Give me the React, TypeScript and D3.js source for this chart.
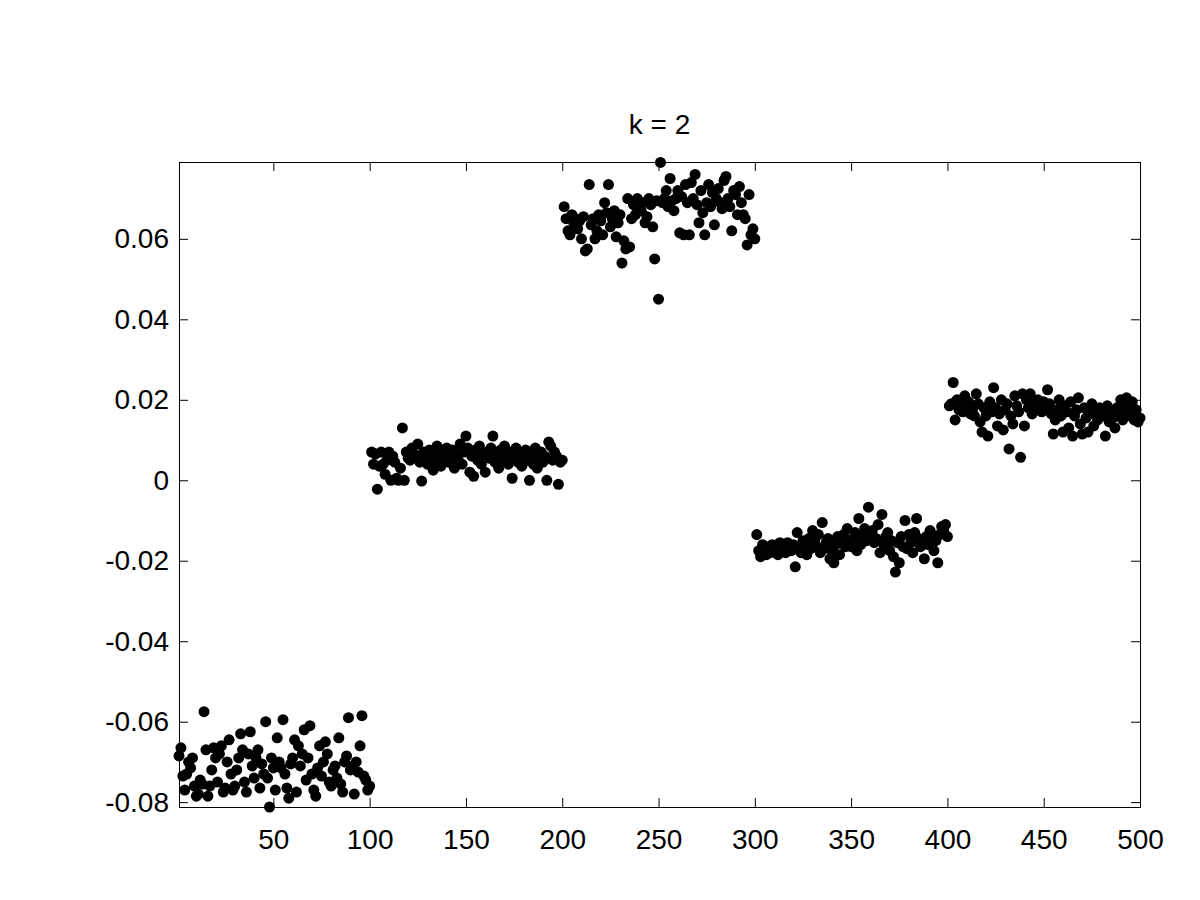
import React, { useEffect, useRef } from 'react';
import * as d3 from 'd3';

// five groups of 100 points each, x = 1..500
const group1 = [
  -0.0685, -0.0665, -0.0735, -0.0770, -0.0730, -0.0700, -0.0715, -0.0690, -0.0760, -0.0785,
  -0.0780, -0.0745, -0.0755, -0.0575, -0.0670, -0.0785, -0.0760, -0.0720, -0.0665, -0.0690,
  -0.0750, -0.0680, -0.0660, -0.0775, -0.0765, -0.0700, -0.0645, -0.0730, -0.0770, -0.0760,
  -0.0720, -0.0690, -0.0630, -0.0670, -0.0750, -0.0775, -0.0680, -0.0625, -0.0710, -0.0740,
  -0.0690, -0.0670, -0.0765, -0.0705, -0.0730, -0.0600, -0.0740, -0.0812, -0.0690, -0.0715,
  -0.0770, -0.0640, -0.0700, -0.0715, -0.0595, -0.0730, -0.0765, -0.0790, -0.0705, -0.0690,
  -0.0645, -0.0775, -0.0660, -0.0710, -0.0680, -0.0620, -0.0745, -0.0690, -0.0610, -0.0730,
  -0.0770, -0.0785, -0.0715, -0.0660, -0.0735, -0.0700, -0.0650, -0.0680, -0.0750, -0.0760,
  -0.0720, -0.0710, -0.0740, -0.0640, -0.0755, -0.0775, -0.0700, -0.0685, -0.0590, -0.0720,
  -0.0710, -0.0780, -0.0700, -0.0725, -0.0660, -0.0585, -0.0735, -0.0745, -0.0770, -0.0760,
];
const group2 = [
  0.0070, 0.0040, 0.0065, -0.0022, 0.0035, 0.0070, 0.0040, 0.0015, 0.0050, 0.0070,
  0.0000, 0.0060, 0.0045, 0.0005, 0.0000, 0.0030, 0.0130, 0.0000, 0.0070, 0.0055,
  0.0050, 0.0080, 0.0065, 0.0060, 0.0090, 0.0045, -0.0002, 0.0070, 0.0055, 0.0040,
  0.0075, 0.0060, 0.0025, 0.0050, 0.0085, 0.0065, 0.0035, 0.0070, 0.0055, 0.0080,
  0.0045, 0.0060, 0.0075, 0.0030, 0.0065, 0.0050, 0.0090, 0.0040, 0.0070, 0.0110,
  0.0080, 0.0020, 0.0060, 0.0010, 0.0075, 0.0050, 0.0085, 0.0040, 0.0065, 0.0020,
  0.0070, 0.0055, 0.0080, 0.0110, 0.0045, 0.0060, 0.0030, 0.0075, 0.0050, 0.0085,
  0.0065, 0.0040, 0.0070, 0.0005, 0.0060, 0.0080, 0.0045, 0.0070, 0.0035, 0.0060,
  0.0075, 0.0050, 0.0000, 0.0065, 0.0040, 0.0080, 0.0030, 0.0055, 0.0070, 0.0045,
  0.0060, 0.0000, 0.0095, 0.0085, 0.0050, 0.0070, 0.0060, -0.0010, 0.0045, 0.0050,
];
const group3 = [
  0.0680, 0.0650, 0.0620, 0.0610, 0.0660, 0.0640, 0.0650, 0.0625, 0.0645, 0.0600,
  0.0655, 0.0570, 0.0575, 0.0735, 0.0635, 0.0650, 0.0600, 0.0620, 0.0660, 0.0645,
  0.0610, 0.0690, 0.0665, 0.0735, 0.0630, 0.0650, 0.0670, 0.0605, 0.0640, 0.0660,
  0.0540, 0.0595, 0.0575, 0.0700, 0.0580, 0.0650, 0.0685, 0.0660, 0.0700, 0.0680,
  0.0670, 0.0690, 0.0640, 0.0655, 0.0700, 0.0685, 0.0630, 0.0550, 0.0695, 0.0450,
  0.0790, 0.0690, 0.0700, 0.0720, 0.0680, 0.0750, 0.0695, 0.0670, 0.0700, 0.0720,
  0.0615, 0.0705, 0.0610, 0.0735, 0.0690, 0.0610, 0.0740, 0.0700, 0.0760, 0.0685,
  0.0640, 0.0720, 0.0665, 0.0610, 0.0690, 0.0735, 0.0680, 0.0715, 0.0635, 0.0700,
  0.0725, 0.0690, 0.0675, 0.0745, 0.0755, 0.0700, 0.0680, 0.0620, 0.0720, 0.0710,
  0.0660, 0.0730, 0.0690, 0.0660, 0.0650, 0.0585, 0.0710, 0.0610, 0.0625, 0.0600,
];
const group4 = [
  -0.0135, -0.0175, -0.0190, -0.0160, -0.0175, -0.0185, -0.0165, -0.0180, -0.0160, -0.0170,
  -0.0175, -0.0185, -0.0155, -0.0175, -0.0170, -0.0180, -0.0155, -0.0165, -0.0175, -0.0160,
  -0.0215, -0.0130, -0.0165, -0.0180, -0.0150, -0.0165, -0.0185, -0.0145, -0.0170, -0.0125,
  -0.0150, -0.0165, -0.0135, -0.0180, -0.0105, -0.0170, -0.0155, -0.0145, -0.0195, -0.0175,
  -0.0205, -0.0160, -0.0140, -0.0185, -0.0155, -0.0135, -0.0165, -0.0120, -0.0150, -0.0165,
  -0.0145, -0.0130, -0.0175, -0.0095, -0.0160, -0.0140, -0.0120, -0.0150, -0.0067, -0.0135,
  -0.0125, -0.0155, -0.0145, -0.0110, -0.0180, -0.0085, -0.0160, -0.0140, -0.0130, -0.0175,
  -0.0150, -0.0190, -0.0228, -0.0155, -0.0205, -0.0140, -0.0165, -0.0100, -0.0170, -0.0135,
  -0.0155, -0.0180, -0.0130, -0.0095, -0.0145, -0.0165, -0.0150, -0.0195, -0.0140, -0.0160,
  -0.0125, -0.0135, -0.0175, -0.0150, -0.0205, -0.0135, -0.0115, -0.0125, -0.0110, -0.0140,
];
const group5 = [
  0.0185, 0.0190, 0.0243, 0.0150, 0.0200, 0.0175, 0.0190, 0.0170, 0.0210, 0.0185,
  0.0195, 0.0165, 0.0175, 0.0160, 0.0215, 0.0190, 0.0145, 0.0120, 0.0180, 0.0160,
  0.0110, 0.0195, 0.0170, 0.0230, 0.0180, 0.0135, 0.0165, 0.0200, 0.0125, 0.0175,
  0.0190, 0.0078, 0.0160, 0.0140, 0.0210, 0.0185, 0.0170, 0.0057, 0.0215, 0.0135,
  0.0200, 0.0180, 0.0215, 0.0165, 0.0190, 0.0175, 0.0200, 0.0185, 0.0170, 0.0195,
  0.0180, 0.0225, 0.0190, 0.0165, 0.0115, 0.0150, 0.0175, 0.0200, 0.0160, 0.0120,
  0.0185, 0.0170, 0.0130, 0.0195, 0.0110, 0.0160, 0.0175, 0.0205, 0.0140, 0.0115,
  0.0180, 0.0155, 0.0120, 0.0165, 0.0190, 0.0135, 0.0170, 0.0150, 0.0180, 0.0175,
  0.0160, 0.0110, 0.0185, 0.0145, 0.0170, 0.0155, 0.0130, 0.0180, 0.0165, 0.0200,
  0.0150, 0.0185, 0.0205, 0.0170, 0.0160, 0.0195, 0.0150, 0.0175, 0.0145, 0.0155,
];

const xTicks = [50, 100, 150, 200, 250, 300, 350, 400, 450, 500];
const yTicks = [-0.08, -0.06, -0.04, -0.02, 0, 0.02, 0.04, 0.06];
const title = 'k = 2';

const App = () => {
  const ref = useRef<SVGSVGElement>(null);

  useEffect(() => {
    document.body.style.margin = '0';
    const svg = d3.select(ref.current);
    svg.selectAll('*').remove();

    const left = 179, right = 1140, top = 162, bottom = 807;
    const font = '"Liberation Sans", Arial, sans-serif';

    const x = d3.scaleLinear().domain([1, 500]).range([left, right]);
    const y = d3.scaleLinear().domain([-0.0812, 0.0791]).range([bottom, top]);

    const values = [...group1, ...group2, ...group3, ...group4, ...group5];
    const points = values.map((v, i) => ({ x: i + 1, y: v }));

    svg.append('rect')
      .attr('width', 1200).attr('height', 900).attr('fill', 'white');

    // markers
    svg.append('g')
      .selectAll('circle')
      .data(points)
      .join('circle')
      .attr('cx', d => x(d.x))
      .attr('cy', d => y(d.y))
      .attr('r', 5.5)
      .attr('fill', 'black');

    const tick = 9;
    const fmtY = (d: number) => (d === 0 ? '0' : d.toFixed(2));

    // bottom axis, ticks inward
    const bx = svg.append('g')
      .attr('transform', `translate(0,${bottom})`)
      .call(d3.axisBottom(x).tickValues(xTicks).tickSizeInner(-tick).tickSizeOuter(0).tickPadding(22));
    // top ticks
    svg.append('g')
      .attr('transform', `translate(0,${top})`)
      .call(d3.axisTop(x).tickValues(xTicks).tickSizeInner(-tick).tickSizeOuter(0).tickFormat(() => ''));
    // left axis
    const ly = svg.append('g')
      .attr('transform', `translate(${left},0)`)
      .call(d3.axisLeft(y).tickValues(yTicks).tickFormat(d => fmtY(+d)).tickSizeInner(-tick).tickSizeOuter(0).tickPadding(10));
    svg.append('g')
      .attr('transform', `translate(${right},0)`)
      .call(d3.axisRight(y).tickValues(yTicks).tickSizeInner(-tick).tickSizeOuter(0).tickFormat(() => ''));

    svg.selectAll('.domain').remove();
    svg.selectAll('.tick line').attr('stroke', 'black').attr('stroke-width', 1);
    [bx, ly].forEach(g => g.selectAll('text')
      .attr('font-family', font).attr('font-size', 28).attr('fill', 'black'));
    bx.selectAll('text').attr('dy', '0.71em');

    // box
    svg.append('rect')
      .attr('x', left + 0.5).attr('y', top + 0.5)
      .attr('width', right - left).attr('height', bottom - top)
      .attr('fill', 'none').attr('stroke', 'black').attr('stroke-width', 1);

    svg.append('text')
      .attr('x', (left + right) / 2).attr('y', 134)
      .attr('text-anchor', 'middle')
      .attr('font-family', font).attr('font-size', 28)
      .text(title);
  }, []);

  return <svg ref={ref} width={1200} height={900} style={{ display: 'block' }} />;
};

export default App;
